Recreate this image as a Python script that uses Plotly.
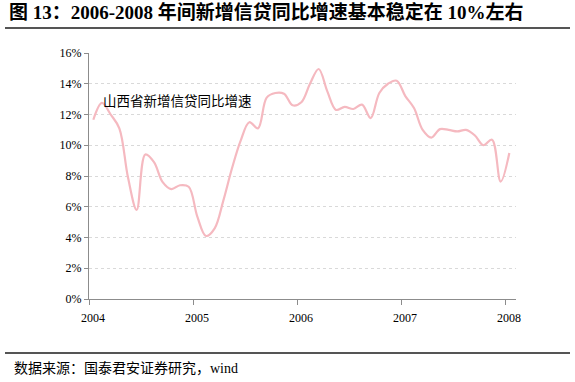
import plotly.graph_objects as go

# Monthly data, Jan 2004 .. Jan 2008 (year-on-year growth of new credit, %)
years = [2004, 2005, 2006, 2007]
months = list(range(1, 13))
dates = [y + (m - 0.5) / 12 for y in years for m in months] + [2008 + 0.5 / 12]
growth = [
    11.66, 12.75, 12.0, 11.1, 7.9, 5.8, 9.4, 8.9, 7.6, 7.15, 7.4, 7.3,
    5.36, 4.1, 4.6, 6.4, 8.5, 10.3, 11.5, 11.1, 13.1, 13.4, 13.35, 12.6,
    12.8, 14.0, 14.96, 13.5, 12.3, 12.5, 12.36, 12.64, 11.77, 13.4, 14.0, 14.2,
    13.2, 12.42, 11.0, 10.5, 11.05, 11.0, 10.9, 11.0, 10.65, 10.0, 10.36, 7.64,
    9.5,
]
y_ticks = [0, 2, 4, 6, 8, 10, 12, 14, 16]
y_tick_text = [f"{v}%" for v in y_ticks]
x_ticks = [2004, 2005, 2006, 2007, 2008]
x_tick_text = [str(v) for v in x_ticks]

series_name = "山西省新增信贷同比增速"
title_text = "图 13：2006-2008 年间新增信贷同比增速基本稳定在 10%左右"
source_text = "数据来源：国泰君安证券研究，wind"

fig = go.Figure()
fig.add_trace(go.Scatter(
    x=dates, y=growth, mode="lines", name=series_name,
    line=dict(color="#F5B9C0", width=2.2, shape="spline", smoothing=1.0),
    hoverinfo="skip",
))

W, H = 575, 382
ml, mr, mt, mb = 89, 59, 53, 83
pw, ph = W - ml - mr, H - mt - mb


def px_x(x):
    return (x - ml) / pw


def px_y(y):
    return (H - mb - y) / ph


serif = "Liberation Serif, Times New Roman, serif"
mixed = "Liberation Serif, Noto Sans CJK SC, serif"
cjk = "Noto Sans CJK SC, sans-serif"

fig.update_layout(
    width=W, height=H,
    margin=dict(l=ml, r=mr, t=mt, b=mb),
    paper_bgcolor="white", plot_bgcolor="white",
    showlegend=False,
    xaxis=dict(
        range=[2004, 2004 + pw / 104.0],
        tickmode="array", tickvals=x_ticks, ticktext=x_tick_text,
        ticks="outside", ticklen=5, tickcolor="#8c8c8c", tickwidth=1,
        showline=True, linecolor="#8c8c8c", linewidth=1,
        showgrid=False, zeroline=False,
        tickfont=dict(family=serif, size=12, color="black"),
        ticklabelshift=4, ticklabelstandoff=3,
    ),
    yaxis=dict(
        range=[0, 16],
        tickmode="array", tickvals=y_ticks, ticktext=y_tick_text,
        ticks="outside", ticklen=4, tickcolor="#8c8c8c", tickwidth=1,
        showline=True, linecolor="#8c8c8c", linewidth=1,
        showgrid=True, gridcolor="#d9d9d9", griddash="dot", gridwidth=1,
        zeroline=False,
        tickfont=dict(family=serif, size=12, color="black"),
    ),
    annotations=[
        dict(text="<b>" + title_text + "</b>", xref="paper", yref="paper",
             x=px_x(7), y=px_y(12), xanchor="left", yanchor="middle",
             showarrow=False, font=dict(family=mixed, size=19, color="black")),
        dict(text=source_text, xref="paper", yref="paper",
             x=px_x(12), y=px_y(368), xanchor="left", yanchor="middle",
             showarrow=False, font=dict(family=mixed, size=14, color="black")),
        dict(text=series_name, xref="paper", yref="paper",
             x=px_x(101), y=px_y(100), xanchor="left", yanchor="middle",
             showarrow=False, font=dict(family=cjk, size=13.5, color="black")),
    ],
    shapes=[
        dict(type="line", xref="paper", yref="paper",
             x0=px_x(5), x1=px_x(570), y0=px_y(28), y1=px_y(28),
             line=dict(color="#555555", width=2)),
        dict(type="line", xref="paper", yref="paper",
             x0=px_x(5), x1=px_x(570), y0=px_y(353), y1=px_y(353),
             line=dict(color="#555555", width=2)),
    ],
)

fig.write_html("out.html",
               config={"displayModeBar": False},
               post_script="document.body.style.margin='0';document.body.style.padding='0';")
